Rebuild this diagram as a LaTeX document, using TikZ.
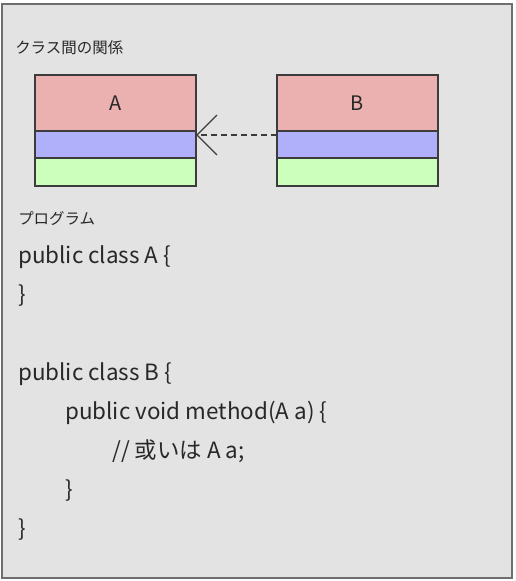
\documentclass[tikz,border=0pt]{standalone}
\usepackage{fontspec}
\setmainfont{Noto Sans CJK JP}
\usetikzlibrary{positioning,arrows.meta}
\definecolor{panelgray}{RGB}{227,227,227}
\definecolor{framegray}{RGB}{110,110,110}
\definecolor{boxline}{RGB}{60,60,60}
\definecolor{namered}{RGB}{235,176,176}
\definecolor{attrblue}{RGB}{176,176,250}
\definecolor{opgreen}{RGB}{204,255,187}
\definecolor{inkgray}{RGB}{40,40,40}
\begin{document}
\begin{tikzpicture}[x=0.75pt,y=-0.75pt]
	\tikzset{part/.style={draw=boxline, line width=1.1pt, minimum width=120.75pt, inner sep=0, outer sep=0, text=inkgray, font=\fontsize{15}{18}\selectfont}};
	\tikzset{caption/.style={anchor=base west, inner sep=0, text=inkgray, font=\fontsize{11.6}{14}\selectfont}};
	\tikzset{code/.style={anchor=base west, inner sep=0, text=inkgray, font=\fontsize{16.8}{20}\selectfont}};
	\useasboundingbox (0,0) rectangle (515,581);
	\draw[framegray, line width=1.5pt, fill=panelgray] (2,4) rectangle (512,578);

	\node[caption] (title) at (15,54) {クラス間の関係};

	% class A
	\node[part, fill=namered, minimum height=42pt] (aname) at (115.5,103) {A};
	\node[part, fill=attrblue, minimum height=20.25pt, below=0pt of aname] (aattr) {};
	\node[part, fill=opgreen, minimum height=21pt, below=0pt of aattr] (aops) {};

	% class B
	\node[part, fill=namered, minimum height=42pt] (bname) at (357.5,103) {B};
	\node[part, fill=attrblue, minimum height=20.25pt, below=0pt of bname] (battr) {};
	\node[part, fill=opgreen, minimum height=21pt, below=0pt of battr] (bops) {};

	\draw[boxline, line width=1pt, dash pattern=on 4.5pt off 3pt, -{Straight Barb[length=15pt, width=30pt, line width=1pt]}]
		([yshift=-3pt]battr.north west) -- ([yshift=-3pt]aattr.north east);

	\node[caption] (prog) at (18,224) {プログラム};

	\node[code] (l1) at (18,263) {public class A \{};
	\node[code] (l2) at (18,302) {\}};
	\node[code] (l3) at (18,380) {public class B \{};
	\node[code] (l4) at (65,419) {public void method(A a) \{};
	\node[code] (l5) at (112,458) {// 或いは A a;};
	\node[code] (l6) at (65,497) {\}};
	\node[code] (l7) at (18,536) {\}};
\end{tikzpicture}
\end{document}
